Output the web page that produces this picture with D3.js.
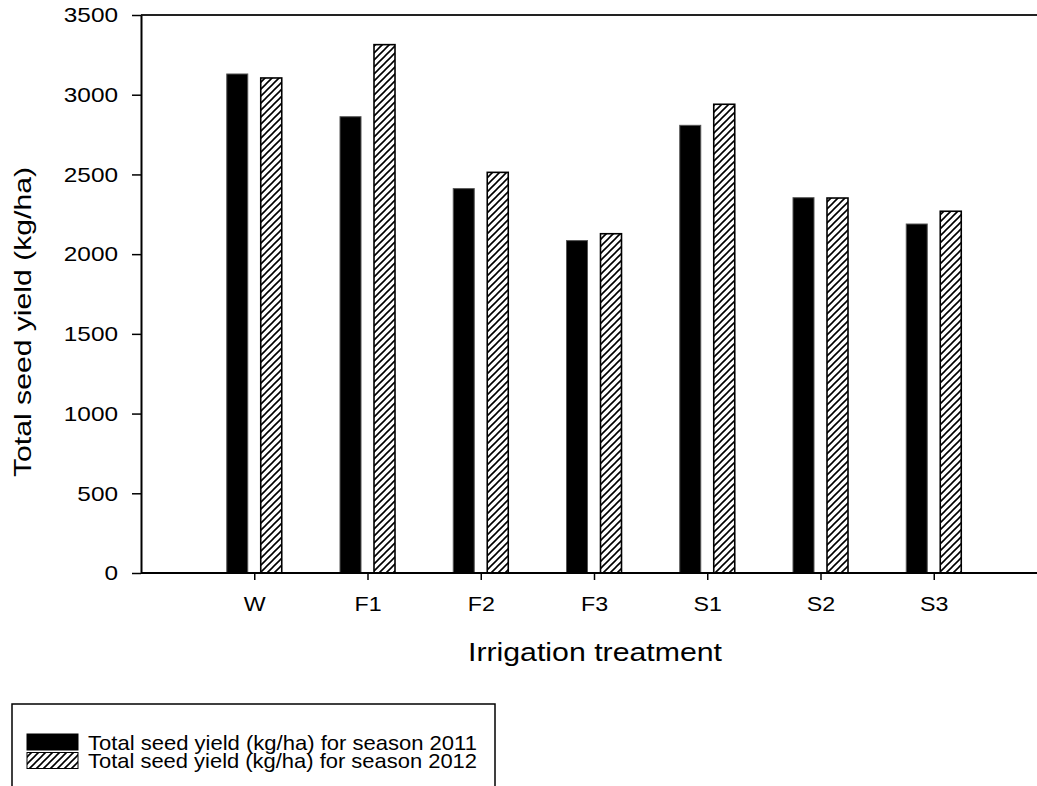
<!DOCTYPE html>
<html><head><meta charset="utf-8">
<script src="https://cdn.jsdelivr.net/npm/d3@7/dist/d3.min.js"></script>
<style>body{margin:0;background:#fff}svg{display:block;font-family:"Liberation Sans",Arial,sans-serif}</style>
</head><body>
<svg id="c" width="1037" height="786"></svg>
<script>
const categories = ["W","F1","F2","F3","S1","S2","S3"];
const yield2011 = [3130, 2862, 2411, 2085, 2808, 2354, 2189];
const yield2012 = [3105, 3314, 2513, 2128, 2940, 2352, 2269];
const yTicks = [0,500,1000,1500,2000,2500,3000,3500];
const seriesNames = ["Total seed yield (kg/ha) for season 2011","Total seed yield (kg/ha) for season 2012"];

(function(){
const svg = d3.select("#c");
const left = 141, plotTop = 15, bottom = 573, rightEnd = 1047;
const FONT = "Liberation Sans, Arial, sans-serif";
function stretch(sel, k){ sel.each(function(){ const L=this.getComputedTextLength(); d3.select(this).attr("textLength",L*k).attr("lengthAdjust","spacingAndGlyphs"); }); }

const defs = svg.append("defs");
const pat = defs.append("pattern").attr("id","hatch").attr("patternUnits","userSpaceOnUse")
  .attr("width",7).attr("height",7);
pat.append("rect").attr("width",7).attr("height",7).attr("fill","#fff");
pat.append("path").attr("d","M-1,1 l2,-2 M0,7 l7,-7 M6,8 l2,-2").attr("stroke","#000").attr("stroke-width",1.6);

const y = d3.scaleLinear().domain([0,3500]).range([bottom, plotTop]);
const x = d3.scalePoint().domain(categories).range([left, rightEnd]).padding(1);
const off = 27.5, bw = 21;

svg.append("line").attr("x1",left).attr("x2",1037).attr("y1",plotTop).attr("y2",plotTop).attr("stroke","#222").attr("stroke-width",2);

const g = svg.append("g");
g.selectAll(".b1").data(categories).join("rect").attr("class","b1")
  .attr("x",d=>x(d)-off).attr("width",bw)
  .attr("y",(d,i)=>y(yield2011[i])).attr("height",(d,i)=>bottom-y(yield2011[i]))
  .attr("fill","#000").attr("stroke","#555").attr("stroke-width",1);
g.selectAll(".b2").data(categories).join("rect").attr("class","b2")
  .attr("x",d=>x(d)+off-bw).attr("width",bw)
  .attr("y",(d,i)=>y(yield2012[i])).attr("height",(d,i)=>bottom-y(yield2012[i]))
  .attr("fill","url(#hatch)").attr("stroke","#000").attr("stroke-width",1.6);

const ya = svg.append("g").attr("transform",`translate(${left},0)`)
  .call(d3.axisLeft(y).tickValues(yTicks).tickFormat(d3.format("d")).tickSize(9).tickPadding(14).tickSizeOuter(0));
ya.select(".domain").attr("stroke","#000").attr("stroke-width",2);
ya.selectAll(".tick line").attr("stroke","#000").attr("stroke-width",1.5);
ya.selectAll("text").attr("font-size",21).attr("fill","#000").attr("font-family",FONT).call(stretch,1.16);

const xa = svg.append("g").attr("transform",`translate(0,${bottom})`)
  .call(d3.axisBottom(x).tickSize(7).tickPadding(17).tickSizeOuter(0));
xa.select(".domain").attr("d",`M${left},0H1037`).attr("stroke","#000").attr("stroke-width",2);
xa.selectAll(".tick line").attr("stroke","#000").attr("stroke-width",1.5);
xa.selectAll("text").attr("font-size",20).attr("fill","#000").attr("font-family",FONT).call(stretch,1.16);

svg.append("text").attr("transform","translate(31,322) rotate(-90)").attr("text-anchor","middle")
  .attr("font-size",24).attr("textLength",310).attr("lengthAdjust","spacingAndGlyphs").text("Total seed yield (kg/ha)");
svg.append("text").attr("x",595).attr("y",661).attr("text-anchor","middle")
  .attr("font-size",25).attr("textLength",254).attr("lengthAdjust","spacingAndGlyphs").text("Irrigation treatment");

svg.append("rect").attr("x",12).attr("y",704).attr("width",483).attr("height",100)
  .attr("fill","none").attr("stroke","#000").attr("stroke-width",1.5);
const lg = svg.append("g");
const fills = ["#000","url(#hatch)"];
seriesNames.forEach((n,i)=>{
  const yy = 734 + i*18.5;
  lg.append("rect").attr("x",27).attr("y",yy).attr("width",51).attr("height",16)
    .attr("fill",fills[i]).attr("stroke","#000").attr("stroke-width",1);
  lg.append("text").attr("x",88).attr("y",yy+15.5).attr("font-size",21)
    .attr("textLength",389).attr("lengthAdjust","spacingAndGlyphs").text(n);
});
})();
</script>
</body></html>
